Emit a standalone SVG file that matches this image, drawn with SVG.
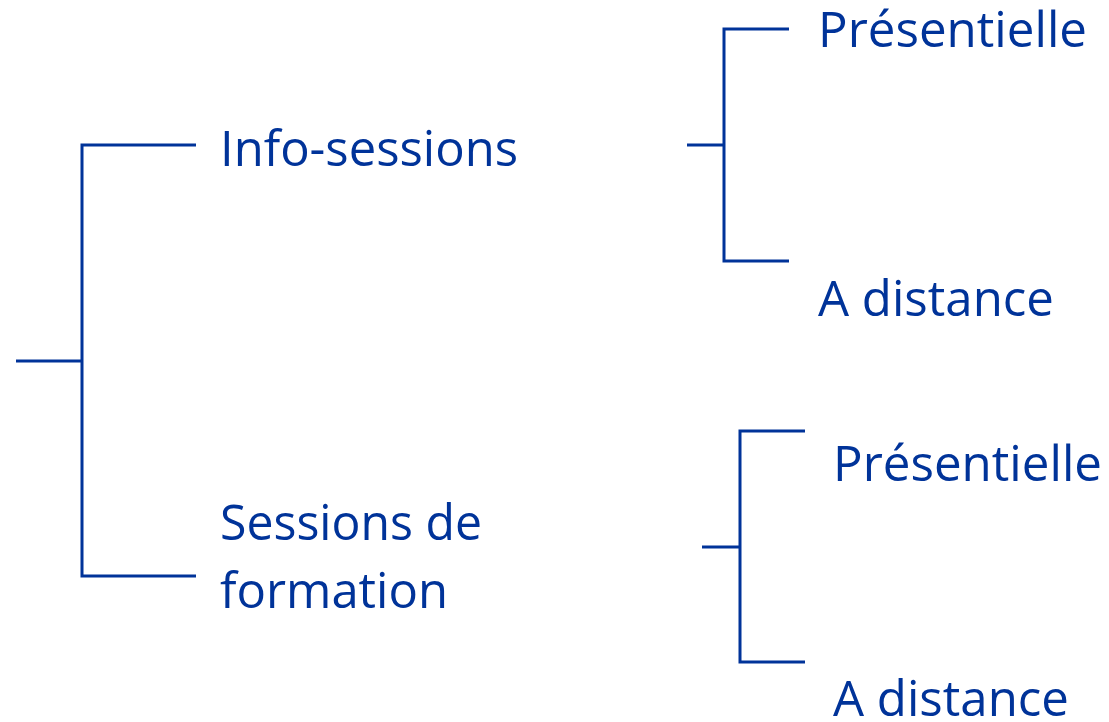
<svg xmlns="http://www.w3.org/2000/svg" width="1109" height="722" viewBox="0 0 1109 722">
<style>
.c{fill:none;stroke:#003399;stroke-width:3;stroke-linecap:butt;stroke-linejoin:miter}
.t{font-family:"Open Sans","Noto Sans","Liberation Sans",sans-serif;font-size:50px;fill:#003399}
</style>
<rect width="1109" height="722" fill="#ffffff"/>
<g id="connectors">
<path class="c" d="M16 361H82M196 145H82V576H196"/>
<path class="c" d="M687 145H724M789 29H724V261H789"/>
<path class="c" d="M702 547H740M805 431H740V662H805"/>
</g>
<g id="n-info"><text class="t" x="220" y="166" textLength="298" lengthAdjust="spacingAndGlyphs">Info-sessions</text></g>
<g id="n-formation"><text class="t" x="220" y="540" textLength="262" lengthAdjust="spacingAndGlyphs">Sessions de</text><text class="t" x="220" y="608" textLength="228" lengthAdjust="spacingAndGlyphs">formation</text></g>
<g id="n-pres1"><text class="t" x="818" y="47" textLength="269" lengthAdjust="spacingAndGlyphs">Présentielle</text></g>
<g id="n-dist1"><text class="t" x="818" y="316" textLength="236" lengthAdjust="spacingAndGlyphs">A distance</text></g>
<g id="n-pres2"><text class="t" x="833" y="481" textLength="269" lengthAdjust="spacingAndGlyphs">Présentielle</text></g>
<g id="n-dist2"><text class="t" x="833" y="716" textLength="236" lengthAdjust="spacingAndGlyphs">A distance</text></g>
</svg>
